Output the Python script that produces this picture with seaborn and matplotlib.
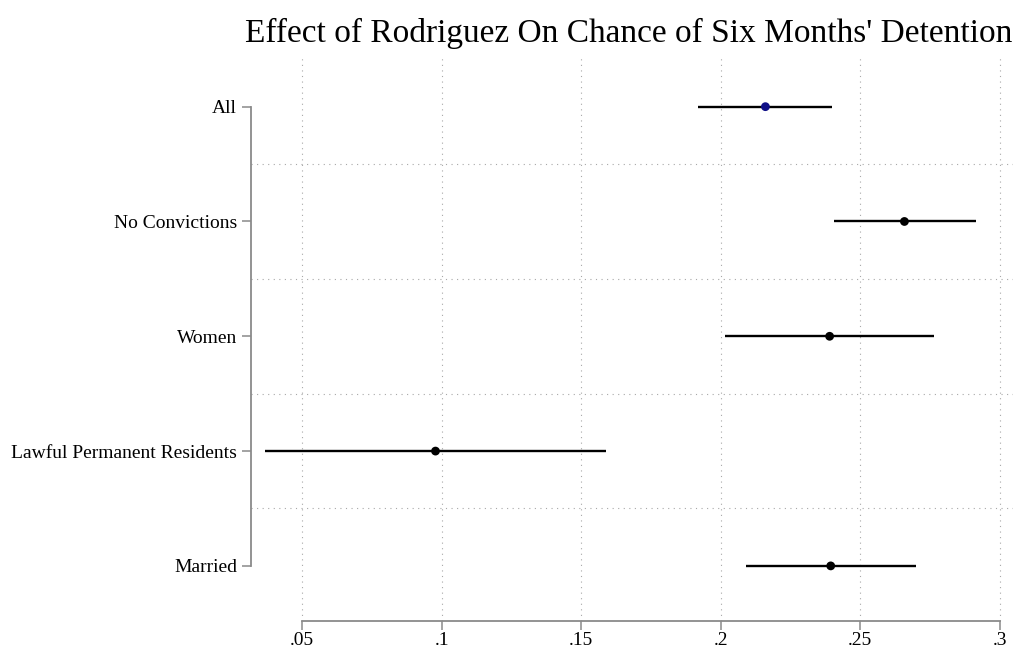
import numpy as np
import pandas as pd
import matplotlib
matplotlib.use("Agg")
import matplotlib.pyplot as plt
import seaborn as sns

# Coefficient estimates with 95% confidence bounds
groups = ["All", "No Convictions", "Women", "Lawful Permanent Residents", "Married"]
estimate = [0.216, 0.2658, 0.239, 0.0978, 0.2394]
ci_low = [0.192, 0.2404, 0.2016, 0.0367, 0.2089]
ci_high = [0.2397, 0.2913, 0.2763, 0.1589, 0.270]
x_ticks = [0.05, 0.10, 0.15, 0.20, 0.25, 0.30]
x_tick_labels = [".05", ".1", ".15", ".2", ".25", ".3"]
title = "Effect of Rodriguez On Chance of Six Months' Detention"

df = pd.DataFrame({"group": groups, "est": estimate, "lo": ci_low, "hi": ci_high})
df["pos"] = np.arange(len(df))
df["kind"] = ["overall"] + ["subgroup"] * (len(df) - 1)

sns.set_theme(style="white")
plt.rcParams["font.family"] = ["Liberation Serif", "DejaVu Serif"]

W, H = 1029, 658
fig = plt.figure(figsize=(W / 100, H / 100), dpi=100)
ax = fig.add_axes([251 / W, 1 - 621 / H, (1013 - 251) / W, (621 - 55) / H])

grid_col = "#a8a8a8"
for t in x_ticks:
    ax.axvline(t, color=grid_col, lw=0.8, ls=(0, (1, 4)), zorder=0)
for y in df["pos"].values[:-1] + 0.5:
    ax.axhline(y, color=grid_col, lw=0.8, ls=(0, (1, 4)), zorder=0)

ax.hlines(df["pos"], df["lo"], df["hi"], color="black", lw=1.7, zorder=2)
sns.scatterplot(data=df, x="est", y="pos", hue="kind",
                palette={"overall": "#0f0f87", "subgroup": "black"},
                s=40, edgecolor="none", legend=False, zorder=3, ax=ax)

ax.set_xlim(0.0317, 0.3047)
ax.set_ylim(len(df) - 1 + 0.48, -0.45)
ax.set_yticks(df["pos"])
ax.set_yticklabels(groups)
ax.set_xticks(x_ticks)
ax.set_xticklabels(x_tick_labels)
ax.set_xlabel("")
ax.set_ylabel("")

spine_col = "#8a8a8a"
for side in ["top", "right"]:
    ax.spines[side].set_visible(False)
ax.spines["left"].set_bounds(0, len(df) - 1)
ax.spines["bottom"].set_bounds(x_ticks[0], x_ticks[-1])
for side in ["left", "bottom"]:
    ax.spines[side].set_color(spine_col)
    ax.spines[side].set_linewidth(1.3)
ax.tick_params(axis="both", which="major", length=6.5, width=1.1, color=spine_col,
               labelsize=14, labelcolor="black", bottom=True, left=True)
ax.tick_params(axis="x", pad=1.5)
ax.tick_params(axis="y", pad=3.5)

fig.text(629 / W, 1 - 33 / H, title, ha="center", va="center",
         fontsize=24, color="black")

fig.savefig("out.png", dpi=100, facecolor="white")
